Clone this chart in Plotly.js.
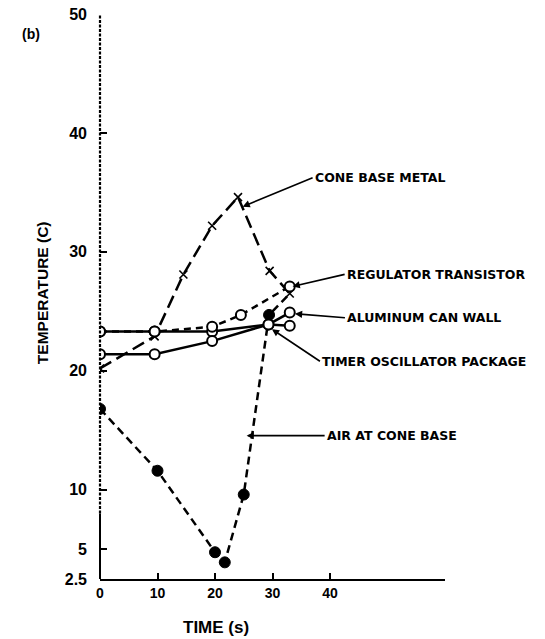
<!DOCTYPE html>
<html>
<head>
<meta charset="utf-8">
<script src="https://cdn.plot.ly/plotly-3.0.1.min.js"></script>
<style>html,body{margin:0;padding:0;background:#fff;}#chart{width:545px;height:639px;}</style>
</head>
<body>
<div id="chart"></div>
<script>
// Data
var coneTime = [0, 9.5, 14.5, 19.5, 24, 29.5, 33];
var coneTemp = [20.2, 22.9, 28.1, 32.2, 34.6, 28.4, 26.5];

var regTime = [0, 9.5, 19.5, 24.5, 33];
var regTemp = [23.3, 23.3, 23.7, 24.7, 27.1];

var alumTime = [0, 9.5, 19.5, 29.3, 33];
var alumTemp = [23.3, 23.3, 23.3, 23.9, 24.9];

var timerTime = [0, 9.5, 19.5, 29.3, 33];
var timerTemp = [21.4, 21.4, 22.5, 23.9, 23.8];

var airTime = [0, 10, 20, 21.7, 25, 29.4, 33];
var airTemp = [16.8, 11.6, 4.75, 3.9, 9.6, 24.7, 26.5];

var yTicks = [2.5, 5, 10, 20, 30, 40, 50];
var yTickText = ['2.5', '5', '10', '20', '30', '40', '50'];
var xTicks = [0, 10, 20, 30, 40];
var xTickText = ['0', '10', '20', '30', '40'];

var labels = {
  cone: 'CONE BASE METAL',
  reg: 'REGULATOR TRANSISTOR',
  alum: 'ALUMINUM CAN WALL',
  timer: 'TIMER OSCILLATOR PACKAGE',
  air: 'AIR AT CONE BASE'
};
var xTitle = 'TIME (s)';
var yTitle = 'TEMPERATURE (C)';

var F = 'Liberation Sans, Arial, sans-serif';
var FL = 'DejaVu Sans, Liberation Sans, sans-serif';

var traces = [
  {x: alumTime, y: alumTemp, mode: 'lines', line: {color: '#000', width: 2.5}, hoverinfo: 'skip'},
  {x: timerTime, y: timerTemp, mode: 'lines', line: {color: '#000', width: 2.5}, hoverinfo: 'skip'},
  {x: regTime, y: regTemp, mode: 'lines', line: {color: '#000', width: 2.5, dash: '7px,5px'}, hoverinfo: 'skip'},
  {x: coneTime, y: coneTemp, mode: 'lines+markers', line: {color: '#000', width: 2.5, dash: '13px,6px'},
   marker: {symbol: 'x-thin-open', size: 8, line: {color: '#000', width: 1.6}}, hoverinfo: 'skip'},
  {x: airTime, y: airTemp, mode: 'lines', line: {color: '#000', width: 2.5, dash: '8px,5px'}, hoverinfo: 'skip'},
  {x: airTime.slice(0, 6), y: airTemp.slice(0, 6), mode: 'markers',
   marker: {symbol: 'circle', size: 11, color: '#000', opacity: 1, line: {color: '#000', width: 1}}, hoverinfo: 'skip'},
  {x: alumTime, y: alumTemp, mode: 'markers', marker: {symbol: 'circle', size: 10, color: '#fff', line: {color: '#000', width: 2}}, hoverinfo: 'skip'},
  {x: timerTime, y: timerTemp, mode: 'markers', marker: {symbol: 'circle', size: 10, color: '#fff', line: {color: '#000', width: 2}}, hoverinfo: 'skip'},
  {x: regTime, y: regTemp, mode: 'markers', marker: {symbol: 'circle', size: 10, color: '#fff', line: {color: '#000', width: 2}}, hoverinfo: 'skip'}
];

function arrowLabel(text, x, y, ax, ay) {
  return {x: x, y: y, xref: 'x', yref: 'y', text: text, showarrow: true,
    ax: ax, ay: ay, xanchor: 'left', yanchor: 'middle',
    arrowhead: 2, arrowsize: 0.9, arrowwidth: 1.6, arrowcolor: '#000', standoff: 0,
    font: {family: FL, size: 12.5, color: '#000', weight: 'bold'}};
}

var layout = {
  width: 545, height: 639,
  margin: {l: 100, r: 100, t: 14, b: 60},
  paper_bgcolor: '#fff', plot_bgcolor: '#fff',
  showlegend: false,
  xaxis: {
    range: [0, 60], tickvals: xTicks, ticktext: xTickText,
    ticks: 'inside', ticklen: 6, tickwidth: 2, tickcolor: '#000',
    showline: true, linecolor: '#000', linewidth: 2,
    showgrid: false, zeroline: false,
    tickfont: {family: F, size: 14, color: '#000', weight: 'bold'}
  },
  yaxis: {
    range: [2.5, 50], tickvals: yTicks, ticktext: yTickText,
    ticks: 'inside', ticklen: 7, tickwidth: 2, tickcolor: '#000',
    showline: false, showgrid: false, zeroline: false,
    ticklabelstandoff: 12,
    tickfont: {family: F, size: 16, color: '#000', weight: 'bold'}
  },
  shapes: [
    {type: 'line', xref: 'paper', yref: 'paper', x0: 0, x1: 0, y0: 0.116, y1: 1, layer: 'above',
     line: {color: '#000', width: 2.2, dash: '3px,1.5px'}},
    {type: 'line', xref: 'paper', yref: 'paper', x0: 0, x1: 0, y0: 0, y1: 0.116, layer: 'above',
     line: {color: '#000', width: 2}}
  ],
  annotations: [
    arrowLabel(labels.cone, 24.8, 33.8, 70, -29),
    arrowLabel(labels.reg, 33.5, 27.1, 52, -12),
    arrowLabel(labels.alum, 33.9, 24.8, 50, 4),
    arrowLabel(labels.timer, 29.9, 23.5, 48, 32),
    arrowLabel(labels.air, 25.5, 14.55, 78, 0),
    {xref: 'paper', yref: 'paper', x: -0.232, y: 0.982, text: '(b)', showarrow: false,
     font: {family: F, size: 14, color: '#000', weight: 'bold'}},
    {xref: 'paper', yref: 'paper', x: 0.336, y: -0.085, xanchor: 'center', yanchor: 'middle',
     text: xTitle, showarrow: false, font: {family: F, size: 17, color: '#000', weight: 'bold'}},
    {xref: 'paper', yref: 'paper', x: -0.168, y: 0.506, xanchor: 'center', yanchor: 'middle', textangle: -90,
     text: yTitle, showarrow: false, font: {family: F, size: 15.5, color: '#000', weight: 'bold'}}
  ]
};

Plotly.newPlot('chart', traces, layout, {staticPlot: true, displayModeBar: false});
</script>
</body>
</html>
